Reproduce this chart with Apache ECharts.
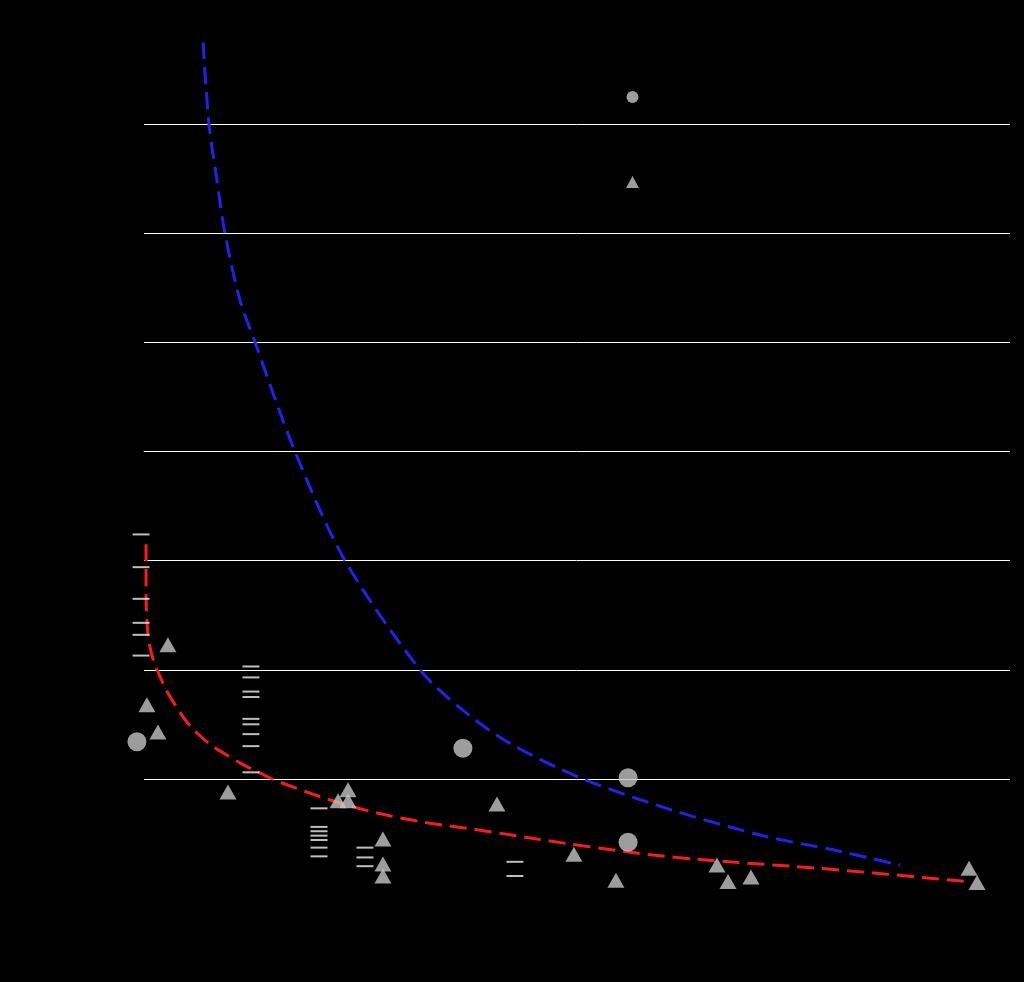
<!DOCTYPE html>
<html>
<head>
<meta charset="utf-8">
<style>
  html, body { margin: 0; padding: 0; background: #000; }
  #chart { width: 1024px; height: 982px; }
</style>
<script src="https://cdn.jsdelivr.net/npm/echarts@6/dist/echarts.min.js"></script>
</head>
<body>
<div id="chart"></div>
<script>
// ---- data ----
const circlePoints = [[-0.28, 1.34], [14.76, 1.28], [22.38, 1.01], [22.38, 0.42]];
const trianglePoints = [
  [1.15, 2.23], [0.18, 1.68], [0.69, 1.43], [3.92, 0.88],
  [9.0, 0.80], [9.46, 0.90], [9.46, 0.80],
  [11.07, 0.45], [11.07, 0.22], [11.07, 0.11],
  [16.33, 0.77], [19.88, 0.31], [21.82, 0.07],
  [26.48, 0.21], [26.99, 0.06], [28.05, 0.10],
  [38.11, 0.18], [38.48, 0.05]
];
const dashPoints = [
  [-0.09, 3.24], [-0.09, 2.94], [-0.09, 2.65], [-0.09, 2.43], [-0.09, 2.32], [-0.09, 2.13],
  [4.98, 2.03], [4.98, 1.93], [4.98, 1.80], [4.98, 1.75], [4.98, 1.55], [4.98, 1.50], [4.98, 1.41], [4.98, 1.30], [4.98, 1.06],
  [8.12, 0.73], [8.12, 0.56], [8.12, 0.52], [8.12, 0.48], [8.12, 0.44], [8.12, 0.37], [8.12, 0.29],
  [10.24, 0.37], [10.24, 0.28], [10.24, 0.20],
  [17.16, 0.24], [17.16, 0.11]
];
const blueCurve = [
  [2.77, 7.75], [3.04, 7.01], [3.40, 6.50], [3.78, 6.0], [4.47, 5.39], [5.17, 5.0],
  [7.01, 4.0], [9.32, 3.0], [12.78, 2.0], [14.63, 1.65], [16.80, 1.34],
  [20.17, 1.01], [24.64, 0.70], [28.79, 0.47], [31.83, 0.35], [34.93, 0.21]
];
const redCurve = [
  [0.14, 3.15], [0.14, 2.76], [0.18, 2.46], [0.32, 2.21], [0.65, 2.0], [1.38, 1.71],
  [2.49, 1.42], [4.01, 1.20], [5.54, 1.04], [6.32, 0.97], [9.41, 0.76], [12.46, 0.62],
  [15.55, 0.53], [20.17, 0.39], [24.64, 0.28], [31.83, 0.17], [37.93, 0.06]
];
const xMin = 0, xMax = 40, xStep = 5;
const yMin = 0, yMax = 8, yStep = 1;

const chart = echarts.init(document.getElementById('chart'), null, { renderer: 'canvas' });
const grey = '#c4c4c4';
chart.setOption({
  backgroundColor: '#000',
  animation: false,
  grid: { left: 143, right: 14, top: 15, bottom: 94, containLabel: false },
  legend: {
    orient: 'vertical',
    left: 621,
    top: 85,
    itemWidth: 13,
    itemHeight: 12,
    itemGap: 71,
    textStyle: { color: '#000', fontSize: 14 },
    data: [
      { name: 'Circles', icon: 'circle' },
      { name: 'Triangles', icon: 'triangle' }
    ]
  },
  xAxis: {
    type: 'value', min: xMin, max: xMax, interval: xStep,
    axisLine: { show: true, lineStyle: { color: '#000' } },
    axisTick: { show: false },
    axisLabel: { color: '#000', fontSize: 14 },
    splitLine: { show: false }
  },
  yAxis: {
    type: 'value', min: yMin, max: yMax, interval: yStep,
    axisLine: { show: true, lineStyle: { color: '#000' } },
    axisTick: { show: false },
    axisLabel: { color: '#000', fontSize: 14 },
    splitLine: {
      show: true, showMinLine: false, showMaxLine: false,
      lineStyle: { color: '#ffffff', width: 1 }
    }
  },
  series: [
    {
      name: 'Blue fit', type: 'line', data: blueCurve, smooth: 0.3, showSymbol: false,
      lineStyle: { color: '#2222ee', width: 3, type: [17, 8] }, z: 3
    },
    {
      name: 'Red fit', type: 'line', data: redCurve, smooth: 0.4, showSymbol: false,
      lineStyle: { color: '#ff1a1a', width: 3, type: [17, 8] }, z: 3
    },
    {
      name: 'Dashes', type: 'scatter', data: dashPoints, clip: false,
      symbol: 'rect', symbolSize: [17, 2],
      itemStyle: { color: '#eeeeee' }, z: 4
    },
    {
      name: 'Circles', type: 'scatter', data: circlePoints, clip: false,
      symbol: 'circle', symbolSize: 19,
      itemStyle: { color: grey }, z: 5
    },
    {
      name: 'Triangles', type: 'scatter', data: trianglePoints, clip: false,
      symbol: 'triangle', symbolSize: [17, 15],
      itemStyle: { color: grey }, z: 5
    }
  ]
});
</script>
</body>
</html>
